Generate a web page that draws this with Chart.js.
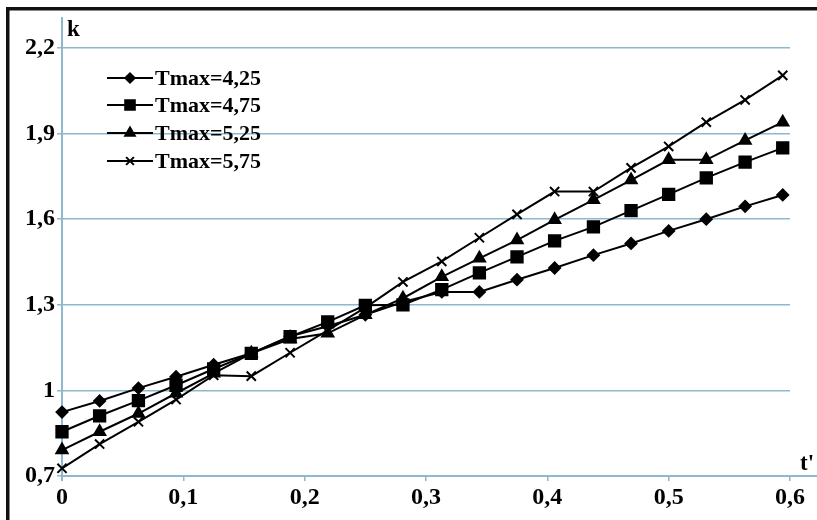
<!DOCTYPE html>
<html>
<head>
<meta charset="utf-8">
<script src="https://cdn.jsdelivr.net/npm/chart.js@4.4.1/dist/chart.umd.min.js"></script>
<style>
  html, body { margin: 0; padding: 0; background: #fff; }
  #wrap { width: 817px; height: 520px; position: relative; }
</style>
</head>
<body>
<div id="wrap"><canvas id="chart"></canvas></div>
<script>
// t' values (x)
const tValues = [0, 0.031, 0.063, 0.094, 0.125, 0.156, 0.188, 0.219, 0.25, 0.281,
  0.313, 0.344, 0.375, 0.406, 0.438, 0.469, 0.5, 0.531, 0.563, 0.594];

// k values per series
const kTmax425 = [0.924, 0.963, 1.008, 1.048, 1.09, 1.13, 1.19, 1.225, 1.265, 1.31,
  1.345, 1.345, 1.388, 1.429, 1.474, 1.515, 1.559, 1.6, 1.645, 1.685];
const kTmax475 = [0.855, 0.911, 0.964, 1.018, 1.075, 1.13, 1.188, 1.24, 1.298, 1.3,
  1.353, 1.412, 1.468, 1.524, 1.573, 1.63, 1.687, 1.745, 1.8, 1.85];
const kTmax525 = [0.791, 0.855, 0.919, 0.99, 1.06, 1.13, 1.18, 1.2, 1.265, 1.323,
  1.398, 1.463, 1.527, 1.598, 1.668, 1.737, 1.808, 1.808, 1.876, 1.94];
const kTmax575 = [0.727, 0.812, 0.89, 0.968, 1.053, 1.05, 1.132, 1.21, 1.29, 1.38,
  1.452, 1.535, 1.617, 1.697, 1.697, 1.78, 1.855, 1.94, 2.018, 2.104];

const seriesLabels = ['Tmax=4,25', 'Tmax=4,75', 'Tmax=5,25', 'Tmax=5,75'];
const xTicks = [0, 0.1, 0.2, 0.3, 0.4, 0.5, 0.6];
const yTicks = [0.7, 1, 1.3, 1.6, 1.9, 2.2];

const gridColor = '#8fb8ce';
const serif = '"Liberation Serif", "DejaVu Serif", serif';
const fmt = v => String(Math.round(v * 10) / 10).replace('.', ',');

const markers = [
  { style: 'rectRot', radius: 5.5 },
  { style: 'rect', radius: 8 },
  { style: 'triangle', radius: 6.5 },
  { style: 'crossRot', radius: 6.5 }
];

const seriesValues = [kTmax425, kTmax475, kTmax525, kTmax575];

const datasets = seriesValues.map((vals, i) => ({
  label: seriesLabels[i],
  data: vals.map((k, j) => ({ x: tValues[j], y: k })),
  borderColor: '#000',
  backgroundColor: '#000',
  borderWidth: 2,
  pointStyle: markers[i].style,
  pointRadius: markers[i].radius,
  pointBorderWidth: 2,
  pointBackgroundColor: '#000',
  pointBorderColor: '#000',
  tension: 0,
  clip: false
}));

// frame, axis lines, axis titles and the in-plot legend
const decor = {
  id: 'decor',
  beforeDatasetsDraw(chart) {
    const { ctx, chartArea: ca } = chart;
    ctx.save();
    ctx.strokeStyle = gridColor;
    ctx.lineWidth = 2;
    ctx.beginPath();
    ctx.moveTo(ca.left, 17);
    ctx.lineTo(ca.left, ca.bottom + 5);
    ctx.moveTo(ca.left, ca.bottom);
    ctx.lineTo(817, ca.bottom);
    ctx.stroke();
    ctx.restore();
  },
  afterDraw(chart) {
    const { ctx } = chart;
    ctx.save();
    ctx.fillStyle = '#111';
    ctx.fillRect(6, 7, 3.5, 513);
    ctx.fillRect(6, 7, 811, 3.5);

    ctx.fillStyle = '#000';
    ctx.font = 'bold 23px ' + serif;
    ctx.textBaseline = 'alphabetic';
    ctx.textAlign = 'left';
    ctx.fillText('k', 67, 36);
    ctx.fillText("t'", 800, 470);

    const rows = [78, 105, 133, 161];
    rows.forEach((y, i) => {
      ctx.strokeStyle = '#000';
      ctx.lineWidth = 2;
      ctx.beginPath();
      ctx.moveTo(107, y);
      ctx.lineTo(153, y);
      ctx.stroke();
      ctx.fillStyle = '#000';
      Chart.helpers.drawPoint(ctx, {
        pointStyle: markers[i].style,
        radius: markers[i].radius * 0.85,
        rotation: 0,
        borderWidth: 2
      }, 130, y);
      ctx.fillStyle = '#000';
      ctx.font = 'bold 22px ' + serif;
      ctx.textBaseline = 'middle';
      ctx.fillText(seriesLabels[i], 155, y + 1);
    });
    ctx.restore();
  }
};

new Chart(document.getElementById('chart'), {
  type: 'line',
  data: { datasets },
  options: {
    responsive: true,
    maintainAspectRatio: false,
    animation: false,
    layout: { padding: { left: 10, top: 48, right: 27, bottom: 0 } },
    plugins: { legend: { display: false }, tooltip: { enabled: false } },
    scales: {
      x: {
        type: 'linear',
        min: 0,
        max: 0.6,
        afterBuildTicks: s => { s.ticks = xTicks.map(v => ({ value: v })); },
        afterFit: s => { s.height = 44; },
        ticks: {
          callback: v => fmt(v),
          color: '#000',
          font: { family: serif, size: 24, weight: 'bold' },
          padding: 2,
          maxRotation: 0,
          autoSkip: false
        },
        grid: { drawOnChartArea: false, tickLength: 5, color: gridColor, lineWidth: 1.5 },
        border: { display: false }
      },
      y: {
        min: 0.7,
        max: 2.2,
        afterBuildTicks: s => { s.ticks = yTicks.map(v => ({ value: v })); },
        afterFit: s => { s.width = 52; },
        ticks: {
          callback: v => fmt(v),
          color: '#000',
          font: { family: serif, size: 24, weight: 'bold' },
          padding: 2,
          autoSkip: false
        },
        grid: { color: gridColor, lineWidth: 1.5, tickLength: 5 },
        border: { display: false }
      }
    }
  },
  plugins: [decor]
});
</script>
</body>
</html>
